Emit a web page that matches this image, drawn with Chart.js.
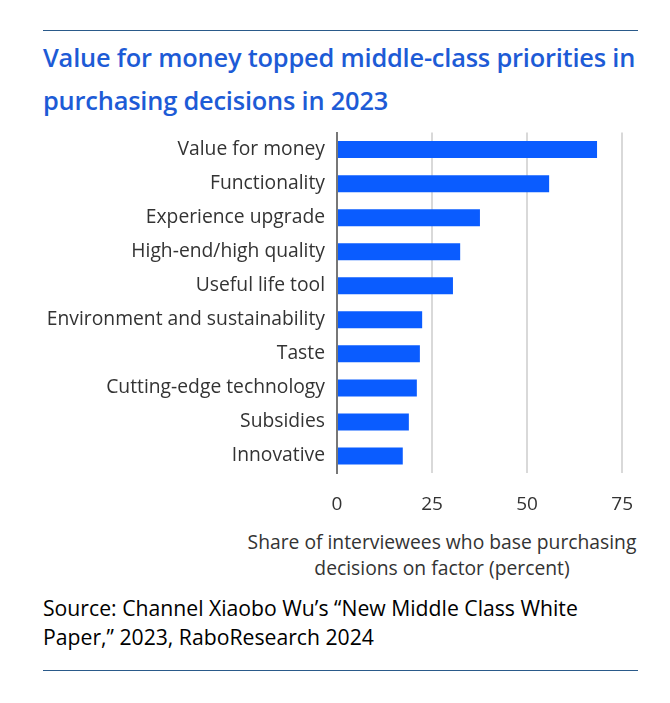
<!DOCTYPE html>
<html>
<head>
<meta charset="utf-8">
<script src="https://cdn.jsdelivr.net/npm/chart.js@4.4.1/dist/chart.umd.min.js"></script>
<style>
  body { margin: 0; background: #fff; }
  #page { position: relative; width: 670px; height: 703px; font-family: "Open Sans", sans-serif; }
  .rule { position: absolute; left: 43px; width: 595px; height: 0; border-top: 1px solid #2a5a8a; }
  #title { position: absolute; left: 43px; top: 36px; width: 627px; font-size: 25.4px; font-weight: 600; color: #1d5bd6; line-height: 43px; letter-spacing: -0.2px; white-space: nowrap; }
  #chartBox { position: absolute; left: 0; top: 109px; width: 653px; height: 411px; }
  #axisTitle { position: absolute; left: 222px; width: 440px; top: 529px; text-align: center; font-size: 19.3px; color: #333; line-height: 26px; }
  #source { position: absolute; left: 43px; top: 593px; font-size: 21.2px; color: #000; line-height: 29px; white-space: nowrap; }
</style>
</head>
<body>
<div id="page">
  <div class="rule" style="top:30px"></div>
  <div id="title">Value for money topped middle-class priorities in<br>purchasing decisions in 2023</div>
  <div id="chartBox"><canvas id="myChart"></canvas></div>
  <div id="axisTitle">Share of interviewees who base purchasing<br>decisions on factor (percent)</div>
  <div id="source">Source: Channel Xiaobo Wu’s “New Middle Class White<br>Paper,” 2023, RaboResearch 2024</div>
  <div class="rule" style="top:670px"></div>
</div>
<script>
// categories and values
var factors = ["Value for money", "Functionality", "Experience upgrade", "High-end/high quality",
    "Useful life tool", "Environment and sustainability", "Taste", "Cutting-edge technology",
    "Subsidies", "Innovative"];
var shares = [68.4, 55.8, 37.6, 32.4, 30.5, 22.4, 21.8, 21.0, 18.9, 17.3];
var tickValues = [0, 25, 50, 75];

var ctx = document.getElementById('myChart').getContext('2d');
var myChart = new Chart(ctx, {
    type: 'bar',
    data: {
        labels: factors,
        datasets: [{
            data: shares,
            backgroundColor: '#0a5cff',
            barPercentage: 0.5,
            categoryPercentage: 1.0
        }]
    },
    options: {
        indexAxis: 'y',
        responsive: true,
        maintainAspectRatio: false,
        animation: false,
        layout: { padding: { top: 7, right: 15 } },
        plugins: { legend: { display: false }, tooltip: { enabled: false } },
        scales: {
            x: {
                min: 0,
                max: 75,
                afterBuildTicks: function(scale) {
                    scale.ticks = tickValues.map(function(v) { return { value: v }; });
                },
                afterFit: function(scale) { scale.height = 47; },
                grid: { color: '#d9d9d9', lineWidth: 2, drawTicks: false },
                border: { display: false },
                ticks: { padding: 20, color: '#333', font: { family: 'Open Sans', size: 19 } }
            },
            y: {
                afterFit: function(scale) { scale.width = 337; },
                grid: { display: false, drawTicks: false },
                border: { display: true, color: '#777', width: 2 },
                ticks: { padding: 12, color: '#333', font: { family: 'Open Sans', size: 19.3 } }
            }
        }
    }
});
</script>
</body>
</html>
